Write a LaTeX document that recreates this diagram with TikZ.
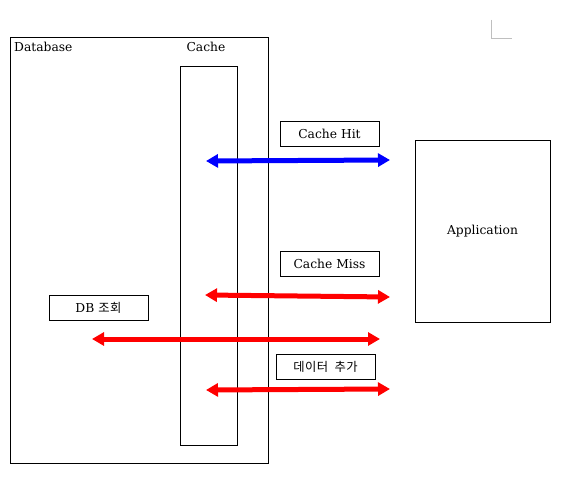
\documentclass[tikz,border=0pt]{standalone}
\usepackage{fontspec}
\setmainfont{DejaVu Serif}
\newfontfamily\krfont[LetterSpace=4]{Noto Sans CJK KR}
\usetikzlibrary{arrows.meta}
\begin{document}
\begin{tikzpicture}[x=1pt,y=-1pt,
  every node/.style={font=\fontsize{12.3}{14}\selectfont, inner sep=0pt},
  area/.style={draw=black, line width=0.9pt},
  label box/.style={draw=black, line width=0.9pt, minimum width=99pt, minimum height=25pt},
  fat/.style={line width=5pt, {Triangle[length=12pt,width=13pt]}-{Triangle[length=12pt,width=13pt]}},
  hit/.style={fat, draw=blue},
  miss/.style={fat, draw=red}]
\useasboundingbox (0,0) rectangle (565,489);
\fill[white] (0,0) rectangle (565,489);
% corner mark
\draw[gray!50, line width=0.8pt] (491,20) -- (491,38) -- (512,38);
% Database
\draw[area] (10,37) rectangle (268,463);
\node[anchor=west] (dbl) at (14,47) {Database};
% Cache
\draw[area] (180,66) rectangle (237,445);
\node (cl) at (206,47) {Cache};
% Application
\node[draw=black, line width=0.9pt, minimum width=135pt, minimum height=182pt] (app) at (482.5,231) {Application};
% label boxes
\node[label box] (hit) at (329.5,133.5) {Cache Hit};
\node[label box] (miss) at (329.5,264) {Cache Miss};
\node[label box] (dbq) at (98.5,308) {DB\hspace{4pt}{\krfont 조회}};
\node[label box] (add) at (325.5,367) {\krfont 데이터\hspace{3pt} 추가};
% arrows
\coordinate (h1) at (206,161);
\coordinate (h2) at (390,160);
\coordinate (m1) at (205,295);
\coordinate (m2) at (390,297);
\coordinate (q1) at (92,339);
\coordinate (q2) at (380,339);
\coordinate (a1) at (206,390);
\coordinate (a2) at (390,389);
\draw[hit] (h1) -- (h2);
\draw[miss] (m1) -- (m2);
\draw[miss] (q1) -- (q2);
\draw[miss] (a1) -- (a2);
\end{tikzpicture}
\end{document}
